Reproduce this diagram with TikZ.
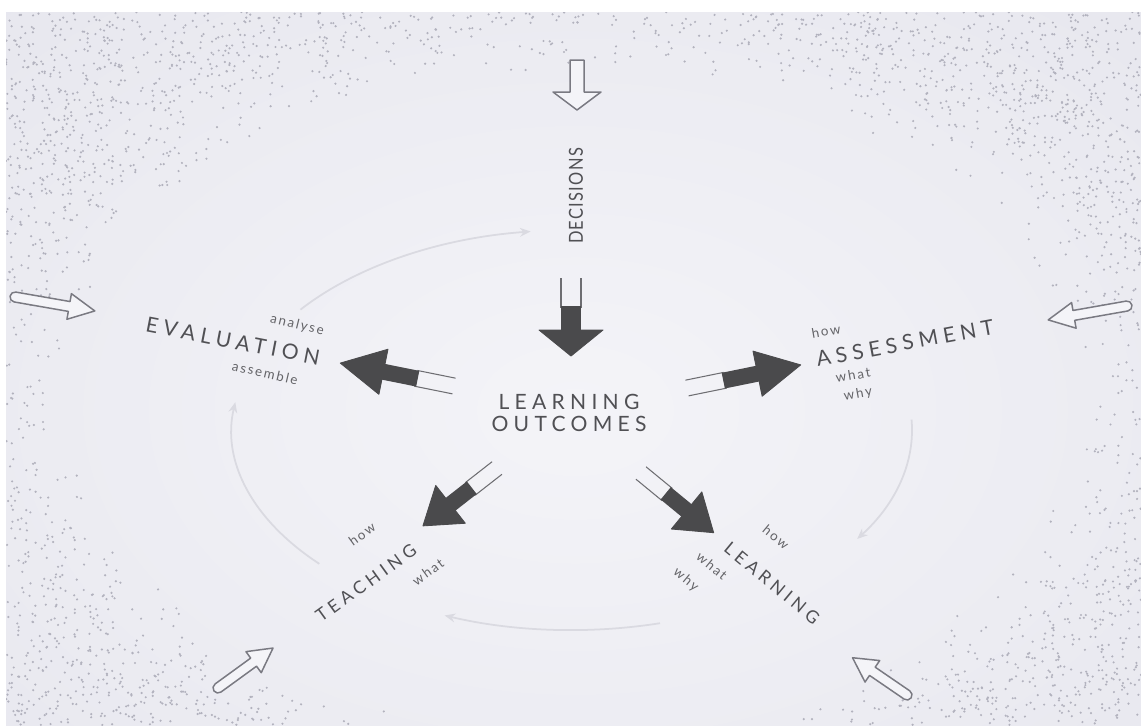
\documentclass[tikz,border=0pt]{standalone}
\usepackage{fontspec}
\usepackage{graphicx}
\newfontfamily\labfont[LetterSpace=25]{Lato}
\newfontfamily\smallfont[LetterSpace=14]{Lato}
\newfontfamily\decfont[LetterSpace=8]{Lato}
\usetikzlibrary{arrows.meta}
\definecolor{bgout}{HTML}{E4E4EC}
\definecolor{bgin}{HTML}{F4F4F8}
\definecolor{dotc}{HTML}{B2B2BE}
\definecolor{txt}{HTML}{505054}
\definecolor{txtl}{HTML}{646468}
\definecolor{darr}{HTML}{4A4A4C}
\definecolor{tailc}{HTML}{6E6E72}
\definecolor{hollowc}{HTML}{7A7A82}
\definecolor{hollowfill}{HTML}{F4F4F8}
\definecolor{cyc}{HTML}{DADAE1}
\tikzset{
  big/.style={font=\labfont\fontsize{12}{12.5}\selectfont, text=txt, inner sep=0pt, align=center},
  mid/.style={font=\labfont\fontsize{10}{11}\selectfont, text=txt, inner sep=0pt},
  small/.style={font=\smallfont\fontsize{7.6}{8}\selectfont, text=txtl, inner sep=0pt},
  dec/.style={font=\decfont\fontsize{11}{12}\selectfont, text=txt, inner sep=0pt},
  cycle arc/.style={draw=cyc, line width=1pt, -{Stealth[length=6pt,width=5pt]}},
  pics/darrow/.style n args={5}{code={
    \draw[tailc, line width=0.6pt] (0,#4) -- (#1+2,#4) (0,-#4) -- (#1+2,-#4);
    \fill[darr] (#1,-#4) rectangle (#1+#2,#4);
    \filldraw[darr, line width=0.5pt, line join=round] (#1+#2-1,-#5) -- (#1+#2+#3,0) -- (#1+#2-1,#5) -- cycle;
  }},
  pics/harrow/.style n args={4}{code={
    \draw[hollowc, fill=hollowfill, line width=0.85pt, line join=round]
      (0,-#3) -- (#1,-#3) -- (#1,-#4) -- (#1+#2,0) -- (#1,#4) -- (#1,#3) -- (0,#3)
      arc[start angle=90, end angle=270, radius=#3] -- cycle;
  }},
  pics/harrowsq/.style n args={4}{code={
    \draw[hollowc, fill=hollowfill, line width=0.85pt, line join=round]
      (0,-#3) -- (#1,-#3) -- (#1,-#4) -- (#1+#2,0) -- (#1,#4) -- (#1,#3) -- (0,#3) -- cycle;
  }},
}
\begin{document}
\begin{tikzpicture}[x=0.02cm, y=-0.02cm]
\useasboundingbox (0,0) rectangle (1141,725);
\fill[white] (0,0) rectangle (1141,725);
\begin{scope}
  \clip (6,12) rectangle (1141,725);
  \fill[bgout] (6,12) rectangle (1141,725);
  \shade[inner color=bgin, outer color=bgout] (575,410) ellipse [x radius=1050, y radius=700];
  \pgfmathsetseed{12345}
  \foreach \i in {1,...,12000}{%
    \pgfmathsetmacro{\px}{6+rnd*1135}%
    \pgfmathsetmacro{\py}{12+rnd*713}%
    \pgfmathsetmacro{\rr}{((\px-575)/500)^2+((\py-400)/330)^2}%
    \pgfmathsetmacro{\ok}{(\rr>1)*(rnd<min(1,(\rr-1)*2))}%
    \ifdim\ok pt>0.5pt\relax \fill[dotc] (\px,\py) circle[radius=1.2];\fi
  }
\end{scope}

% faint cycle arcs (ellipse centre 572,430)
\coordinate (cc) at (572,430);
\draw[cycle arc] ([shift={(-143:340 and 200)}]cc) arc[start angle=-143, end angle=-97, x radius=340, y radius=200];
\draw[cycle arc] ([shift={(-222:340 and 200)}]cc) arc[start angle=-222, end angle=-172, x radius=340, y radius=200];
\draw[cycle arc] ([shift={(-3:340 and 200)}]cc) arc[start angle=-3, end angle=33, x radius=340, y radius=200];
\draw[cycle arc] ([shift={(75:340 and 200)}]cc) arc[start angle=75, end angle=112, x radius=340, y radius=200];

% hollow outer arrows
\coordinate (hT) at (577,60);
\coordinate (hL) at (15,297);
\coordinate (hR) at (1127,306);
\coordinate (hBL) at (218,688);
\coordinate (hBR) at (907,695);
\pic[rotate=-90] at (hT) {harrowsq={32}{18}{7}{24}};
\pic[rotate=-9.9] at (hL) {harrow={55}{26}{5}{13}};
\pic[rotate=190] at (hR) {harrow={54}{26}{5}{13}};
\pic[rotate=36] at (hBL) {harrow={44}{24}{5}{13}};
\pic[rotate=145.6] at (hBR) {harrow={42}{24}{5}{13}};

% dark arrows from the centre
\coordinate (dD) at (571,278);
\coordinate (dE) at (454,386);
\coordinate (dA) at (687,388);
\coordinate (dT) at (497,468);
\coordinate (dL) at (641,473);
\pic[rotate=-90] at (dD) {darrow={28}{25}{25}{10}{32}};
\pic[rotate=168.6] at (dE) {darrow={37}{36}{43}{8}{23}};
\pic[rotate=11.5] at (dA) {darrow={37}{36}{43}{8}{23}};
\pic[rotate=218] at (dT) {darrow={32}{28}{34}{8}{24}};
\pic[rotate=-39.4] at (dL) {darrow={32}{28}{34}{8}{24}};

% texts
\node[big] (lo) at (569,413) {LEARNING\\OUTCOMES};
\node[dec, rotate=90] (decis) at (576,196) {\scalebox{0.85}[1]{DECISIONS}};

\node[big, rotate=-11] (eval) at (233,341) {EVALUATION};
\node[small, rotate=-14] (eana) at (297,325) {analyse};
\node[small, rotate=-13] (eass) at (265,373) {assemble};

\node[big, rotate=10.5] (asmt) at (905,343) {ASSESSMENT};
\node[small, rotate=10] (ahow) at (826,331) {how};
\node[small, rotate=10] (awhat) at (853,375) {what};
\node[small, rotate=10] (awhy) at (858,394) {why};

\node[mid, rotate=35.8] (teach) at (366,583) {TEACHING};
\node[small, rotate=35.8] (thow) at (362,534) {how};
\node[small, rotate=35.8] (twhat) at (428,572) {what};

\node[mid, rotate=-39.6] (learn) at (772,583) {LEARNING};
\node[small, rotate=-39.6] (lhow) at (776,537) {how};
\node[small, rotate=-39.6] (lwhat) at (712,566) {what};
\node[small, rotate=-39.6] (lwhy) at (686,580) {why};
\end{tikzpicture}
\end{document}
